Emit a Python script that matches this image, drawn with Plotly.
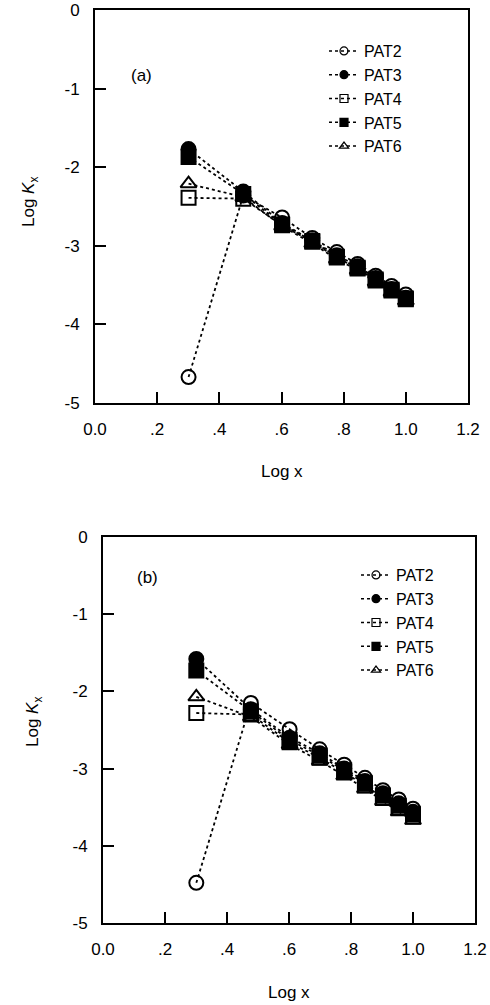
import plotly.graph_objects as go

W, H = 490, 1005

# ---- data ----
log_x = [0.301, 0.477, 0.602, 0.699, 0.778, 0.845, 0.903, 0.954, 1.000]
series_names = ["PAT2", "PAT3", "PAT4", "PAT5", "PAT6"]

# panel (a)
a_PAT2 = [-4.67, -2.36, -2.64, -2.90, -3.08, -3.23, -3.38, -3.51, -3.62]
a_PAT3 = [-1.77, -2.31, -2.71, -2.93, -3.12, -3.26, -3.41, -3.55, -3.66]
a_PAT4 = [-2.39, -2.40, -2.74, -2.95, -3.15, -3.29, -3.44, -3.57, -3.68]
a_PAT5 = [-1.87, -2.34, -2.73, -2.94, -3.14, -3.28, -3.43, -3.56, -3.67]
a_PAT6 = [-2.21, -2.38, -2.75, -2.97, -3.17, -3.31, -3.46, -3.59, -3.70]

# panel (b)
b_PAT2 = [-4.48, -2.15, -2.49, -2.75, -2.95, -3.12, -3.28, -3.40, -3.52]
b_PAT3 = [-1.58, -2.23, -2.60, -2.80, -3.00, -3.16, -3.32, -3.45, -3.56]
b_PAT4 = [-2.28, -2.30, -2.66, -2.86, -3.05, -3.22, -3.38, -3.51, -3.62]
b_PAT5 = [-1.73, -2.26, -2.63, -2.83, -3.02, -3.19, -3.35, -3.48, -3.59]
b_PAT6 = [-2.07, -2.33, -2.69, -2.90, -3.09, -3.26, -3.42, -3.56, -3.67]

x_ticks = [0.0, 0.2, 0.4, 0.6, 0.8, 1.0, 1.2]
x_ticktext = ["0.0", ".2", ".4", ".6", ".8", "1.0", "1.2"]
y_ticks = [0, -1, -2, -3, -4, -5]
y_ticktext = ["0", "-1", "-2", "-3", "-4", "-5"]

symbols = ["circle-open", "circle", "square-open", "square", "triangle-up-open"]
FONT = "Liberation Sans, Arial, sans-serif"

fig = go.Figure()

panels = [
    ([a_PAT2, a_PAT3, a_PAT4, a_PAT5, a_PAT6], "x", "y", "legend"),
    ([b_PAT2, b_PAT3, b_PAT4, b_PAT5, b_PAT6], "x2", "y2", "legend2"),
]
for data, xa, ya, lg in panels:
    for name, ys, sym in zip(series_names, data, symbols):
        fig.add_trace(go.Scatter(
            x=log_x, y=ys, name=name, mode="lines+markers",
            xaxis=xa, yaxis=ya, showlegend=False,
            line=dict(color="black", width=1.8, dash="dot"),
            marker=dict(symbol=sym, size=14, color="black",
                        line=dict(color="black", width=2)),
        ))
    # legend entries with small symbols, as in the original key
    for name, sym in zip(series_names, symbols):
        fig.add_trace(go.Scatter(
            x=[None], y=[None], name=name, mode="lines+markers",
            xaxis=xa, yaxis=ya, legend=lg, showlegend=True,
            line=dict(color="black", width=1.5, dash="dot"),
            marker=dict(symbol=sym, size=8, color="black",
                        line=dict(color="black", width=1.2)),
        ))

def px_x(p):
    return p / W

def px_y(p):
    return 1 - p / H

axis_common = dict(
    showline=True, linecolor="black", linewidth=2, mirror=True,
    ticks="inside", ticklen=11, tickwidth=2, tickcolor="black",
    showgrid=False, zeroline=False, ticklabelstandoff=10,
    tickfont=dict(family=FONT, size=17, color="black"),
)

legend_common = dict(
    xanchor="left", yanchor="top", bgcolor="rgba(0,0,0,0)",
    font=dict(family=FONT, size=16, color="black"), tracegroupgap=0,
)

fig.update_layout(
    width=W, height=H,
    margin=dict(l=0, r=0, t=0, b=0, autoexpand=False),
    paper_bgcolor="white", plot_bgcolor="white",
    showlegend=True,
    xaxis=dict(domain=[px_x(95), px_x(468)], range=[0, 1.2], anchor="y",
               tickvals=x_ticks, ticktext=x_ticktext, **axis_common),
    yaxis=dict(domain=[px_y(403), px_y(10)], range=[-5, 0], anchor="x",
               tickvals=y_ticks, ticktext=y_ticktext, **axis_common),
    xaxis2=dict(domain=[px_x(103), px_x(475)], range=[0, 1.2], anchor="y2",
                tickvals=x_ticks, ticktext=x_ticktext, **axis_common),
    yaxis2=dict(domain=[px_y(923), px_y(537)], range=[-5, 0], anchor="x2",
                tickvals=y_ticks, ticktext=y_ticktext, **axis_common),
    legend=dict(x=px_x(324), y=px_y(34), **legend_common),
    legend2=dict(x=px_x(356), y=px_y(558), **legend_common),
)

ann_font = dict(family=FONT, size=17, color="black")
annotations = [
    dict(text="(a)", x=px_x(141), y=px_y(75)),
    dict(text="(b)", x=px_x(147), y=px_y(577)),
    dict(text="Log x", x=px_x(282), y=px_y(471)),
    dict(text="Log x", x=px_x(289), y=px_y(992)),
    dict(text="Log <i>K</i><sub>x</sub>", x=px_x(30), y=px_y(202), textangle=-90),
    dict(text="Log <i>K</i><sub>x</sub>", x=px_x(34), y=px_y(722), textangle=-90),
]
for a in annotations:
    fig.add_annotation(xref="paper", yref="paper", showarrow=False,
                       xanchor="center", yanchor="middle", font=ann_font, **a)

fig.write_html("out.html", config={"displayModeBar": False},
               post_script="document.body.style.margin='0';")
